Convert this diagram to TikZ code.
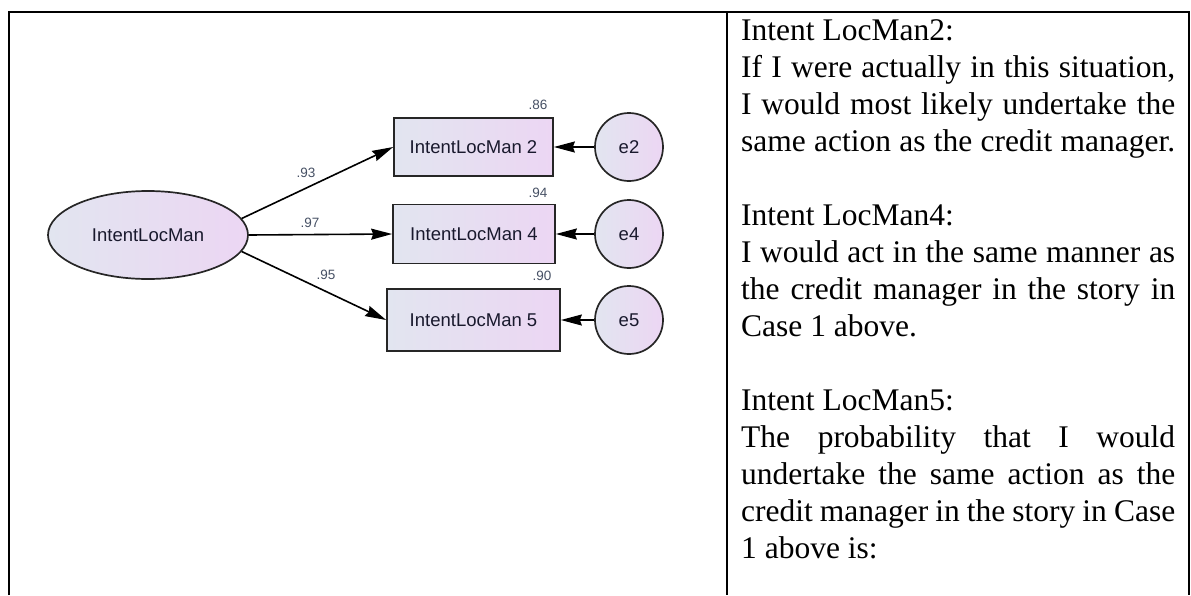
\documentclass[tikz,border=0pt]{standalone}
\usepackage{fontspec}
\setmainfont{Liberation Serif}
\newfontfamily\arialf{Liberation Sans}
\usetikzlibrary{shapes.geometric,arrows.meta}
\definecolor{shl}{RGB}{226,229,240}
\definecolor{shr}{RGB}{236,214,243}
\definecolor{lblc}{RGB}{70,80,100}
\definecolor{txtc}{RGB}{25,25,45}
\tikzset{
  semvar/.style={draw=black!85, line width=1.7pt, left color=shl, right color=shr, font=\arialf\fontsize{18.5}{20}\selectfont, text=txtc, inner sep=0pt},
  obsbox/.style={semvar, rectangle},
  latent/.style={semvar, ellipse, minimum width=200pt, minimum height=88pt},
  errc/.style={semvar, circle, minimum size=68pt},
  path/.style={line width=1.6pt, -{Stealth[length=21pt,width=11pt,inset=2pt]}},
  coef/.style={font=\arialf\fontsize{13.5}{14}\selectfont, text=lblc, inner sep=0pt},
  tline/.style={line width=2pt},
  qline/.style={anchor=base west, inner sep=0pt, font=\fontsize{31.5}{36.8}\selectfont},
}
\newcommand{\jline}[1]{\makebox[434pt][s]{#1}}
\begin{document}
\begin{tikzpicture}[x=1pt,y=-1pt]
\useasboundingbox (0,0) rectangle (1191,595);
% table lines
\draw[tline] (9,595) -- (9,11.5) -- (1189,11.5) -- (1189,595);
\draw[tline] (727,11.5) -- (727,595);
% nodes
\node[latent] (ell) at (148,235) {IntentLocMan};
\node[obsbox, minimum width=159pt, minimum height=58pt] (b2) at (473.5,147) {IntentLocMan 2};
\node[obsbox, minimum width=162pt, minimum height=59pt] (b4) at (474,234) {IntentLocMan 4};
\node[obsbox, minimum width=173pt, minimum height=62pt] (b5) at (473.5,320) {IntentLocMan 5};
\node[errc] (e2) at (629,147) {e2};
\node[errc] (e4) at (629,234) {e4};
\node[errc] (e5) at (629,320) {e5};
% paths
\draw[path] (ell.10) -- (b2.west);
\draw[path] (ell.east) -- (b4.west);
\draw[path] (ell.-10) -- (b5.west);
\draw[path] (e2) -- (b2);
\draw[path] (e4) -- (b4);
\draw[path] (e5) -- (b5);
% coefficients
\node[coef] (c93) at (306,173) {.93};
\node[coef] (c97) at (310,223) {.97};
\node[coef] (c95) at (326,275) {.95};
\node[coef] (r86) at (538,105) {.86};
\node[coef] (r94) at (538,193) {.94};
\node[coef] (r90) at (542,276) {.90};
% right column text
\node[qline] (t1) at (741,40) {Intent LocMan2:};
\node[qline] (t2) at (741,77) {\jline{If I were actually in this situation,}};
\node[qline] (t3) at (741,114) {\jline{I would most likely undertake the}};
\node[qline] (t4) at (741,151) {\jline{same action as the credit manager.}};
\node[qline] (t6) at (741,225) {Intent LocMan4:};
\node[qline] (t7) at (741,262) {\jline{I would act in the same manner as}};
\node[qline] (t8) at (741,299) {\jline{the credit manager in the story in}};
\node[qline] (t9) at (741,336) {Case 1 above.};
\node[qline] (t11) at (741,410) {Intent LocMan5:};
\node[qline] (t12) at (741,447) {\jline{The probability that I would}};
\node[qline] (t13) at (741,484) {\jline{undertake the same action as the}};
\node[qline] (t14) at (741,521) {\jline{credit manager in the story in Case}};
\node[qline] (t15) at (741,558) {1 above is:};
\end{tikzpicture}
\end{document}
